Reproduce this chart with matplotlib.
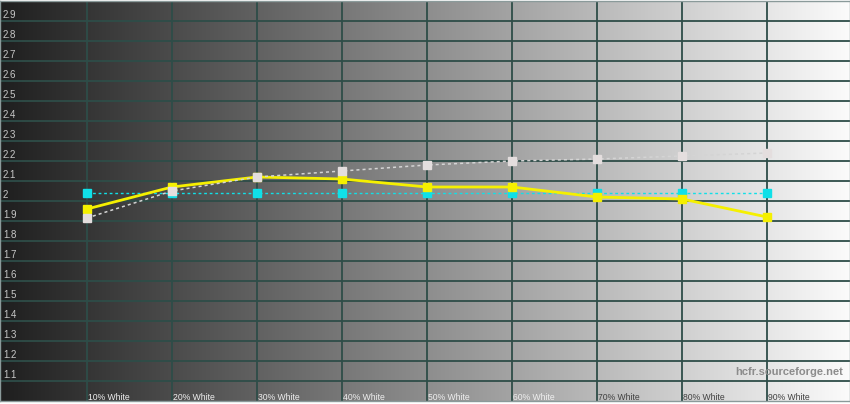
import numpy as np
import matplotlib
matplotlib.use("Agg")
import matplotlib.pyplot as plt

# ---- data ----
categories = ["10% White", "20% White", "30% White", "40% White", "50% White",
              "60% White", "70% White", "80% White", "90% White"]
levels = [10, 20, 30, 40, 50, 60, 70, 80, 90]
measured_gamma = [1.96, 2.07, 2.12, 2.11, 2.07, 2.07, 2.02, 2.01, 1.92]
target_gamma = [2.04, 2.04, 2.04, 2.04, 2.04, 2.04, 2.04, 2.04, 2.04]
reference_gamma = [1.915, 2.05, 2.12, 2.15, 2.18, 2.20, 2.21, 2.225, 2.24]
y_ticks = [1.1, 1.2, 1.3, 1.4, 1.5, 1.6, 1.7, 1.8, 1.9, 2.0,
           2.1, 2.2, 2.3, 2.4, 2.5, 2.6, 2.7, 2.8, 2.9]
y_tick_labels = ["1.1", "1.2", "1.3", "1.4", "1.5", "1.6", "1.7", "1.8", "1.9", "2",
                 "2.1", "2.2", "2.3", "2.4", "2.5", "2.6", "2.7", "2.8", "2.9"]
watermark = "hcfr.sourceforge.net"

plt.rcParams['font.family'] = ['Liberation Sans', 'DejaVu Sans']

W, H = 850, 404
fig = plt.figure(figsize=(W / 100, H / 100), dpi=100)
ax = fig.add_axes([0, 3 / H, 1, 400 / H])
x0, x1 = -2 / 8.5, (850 - 2) / 8.5
y0, y1 = 1.0, 3.0
ax.set_xlim(x0, x1)
ax.set_ylim(y0, y1)

# gradient background
grad = np.linspace(0, 1, 512)
c0, c1 = np.array([0.12, 0.12, 0.12]), np.array([0.985, 0.985, 0.985])
img = (c0[None, :] + (c1 - c0)[None, :] * grad[:, None])[None, :, :]
ax.imshow(img, extent=[x0, x1, y0, y1], aspect='auto', zorder=0, interpolation='bilinear')

# grid
grid_col = '#2e4d48'
for v in y_ticks:
    ax.axhline(v, color=grid_col, lw=1.3, zorder=1)
for lv in levels:
    ax.axvline(lv, color=grid_col, lw=1.3, zorder=1)

# series
ax.plot(levels, target_gamma, color='#10e0e8', lw=1.0, ls=(0, (2, 2)),
        marker='s', ms=5.5, mec='#10e0e8', mfc='#10e0e8', zorder=3)
ax.plot(levels, measured_gamma, color='#f5f000', lw=2.0,
        marker='s', ms=6, mec='#f5f000', mfc='#f5f000', zorder=4)
ax.plot(levels, reference_gamma, color='#d4d4d4', lw=1.1, ls=(0, (2, 2)),
        marker='s', ms=5.5, mec='#e4dede', mfc='#e4dede', zorder=5)

# y labels (inside, above grid lines)
for v, lab in zip(y_ticks, y_tick_labels):
    ax.text(0.12, v + 0.028, lab, fontsize=7, color='#c8c8c8',
            ha='left', va='center', zorder=6)

# x labels
for lv, lab in zip(levels, categories):
    col = '#f0f0f0' if lv <= 60 else '#404040'
    ax.text(lv + 0.15, 1.016, lab, fontsize=6.2, color=col,
            ha='left', va='center', zorder=6)

ax.text(98.9, 1.145, watermark, fontsize=8, color='#8c8c8c', fontweight='bold',
        ha='right', va='center', zorder=6)

ax.set_xticks([])
ax.set_yticks([])
for s in ax.spines.values():
    s.set_color('#8a9a9a')
    s.set_linewidth(1.0)

fig.savefig('out.png', dpi=100)
